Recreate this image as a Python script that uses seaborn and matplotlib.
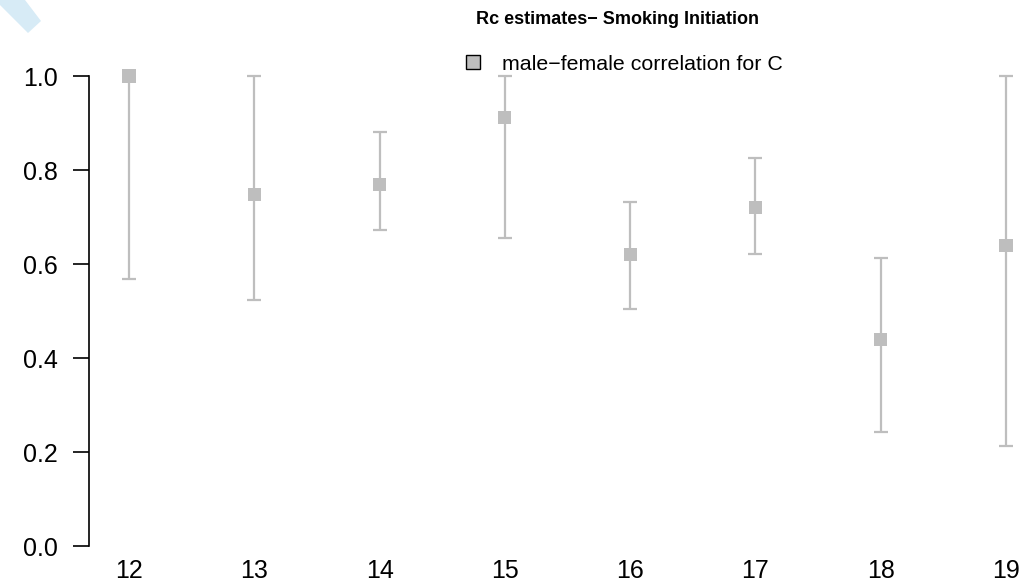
import matplotlib
matplotlib.use("Agg")
import matplotlib.pyplot as plt
from matplotlib.patches import Polygon
from matplotlib.lines import Line2D
import seaborn as sns
import pandas as pd

# Rc estimates (male-female correlation for C) by age, with confidence limits
ages = [12, 13, 14, 15, 16, 17, 18, 19]
estimate = [1.000, 0.747, 0.769, 0.911, 0.621, 0.721, 0.439, 0.639]
lower = [0.568, 0.523, 0.672, 0.656, 0.504, 0.621, 0.243, 0.213]
upper = [1.000, 1.000, 0.880, 1.000, 0.732, 0.826, 0.613, 1.000]
y_ticks = [0.0, 0.2, 0.4, 0.6, 0.8, 1.0]
title = "Rc estimates\u2212 Smoking Initiation"
series_label = "male\u2212female correlation for C"

df = pd.DataFrame({"age": ages, "rc": estimate, "lo": lower, "hi": upper})

sns.set_theme(style="white")
plt.rcParams["font.family"] = ["Liberation Sans", "DejaVu Sans"]
plt.rcParams["text.color"] = "black"

W, H = 1029, 586
fig = plt.figure(figsize=(W / 100, H / 100), dpi=100)
ax = fig.add_axes([89 / W, (H - 552) / H, (W - 89) / W, (552 - 57) / H])

grey = "#bebebe"
ax.errorbar(df["age"], df["rc"],
            yerr=[df["rc"] - df["lo"], df["hi"] - df["rc"]],
            fmt="none", ecolor=grey, elinewidth=1.6, capsize=4.8,
            capthick=1.6, zorder=2)
sns.scatterplot(data=df, x="age", y="rc", marker="s", s=88, color=grey,
                edgecolor="none", linewidth=0, ax=ax, zorder=3, legend=False)

px_per_unit = 125.3
ax.set_xlim(12 - 40 / px_per_unit, 19 + 23 / px_per_unit)
ax.set_ylim(1 - (552 - 76) / 470, 1 + (76 - 57) / 470)

ax.set_xticks(ages)
ax.set_xticklabels([str(a) for a in ages], fontsize=18)
ax.set_yticks(y_ticks)
ax.set_yticklabels([f"{v:.1f}" for v in y_ticks], fontsize=18)
ax.tick_params(axis="x", length=0, pad=5, labelcolor="black")
ax.tick_params(axis="y", direction="out", length=11.5, width=1.2, pad=11,
               colors="black", left=True)
ax.set_xlabel("")
ax.set_ylabel("")

for side in ("top", "right", "bottom"):
    ax.spines[side].set_visible(False)
ax.spines["left"].set_bounds(0, 1)
ax.spines["left"].set_linewidth(1.2)
ax.spines["left"].set_color("black")

handle = Line2D([], [], linestyle="none", marker="s", markersize=10,
                markerfacecolor=grey, markeredgecolor="black",
                markeredgewidth=1.0)
ax.legend([handle], [series_label], loc="center left",
          bbox_to_anchor=(463 / W, (H - 64) / H),
          bbox_transform=fig.transFigure, frameon=False, fontsize=15.4,
          handlelength=0.9, handletextpad=0.9, borderpad=0, borderaxespad=0,
          labelcolor="black")

fig.text(617 / W, (H - 19) / H, title, ha="center", va="center",
         fontsize=13, fontweight="bold", color="black")

# corner ribbon
corner = Polygon([(0, H), (25, H), (41, H - 21), (28, H - 33), (0, H - 5)],
                 closed=True, transform=None, facecolor="#d7ebf6",
                 edgecolor="none", zorder=0)
fig.patches.append(corner)

fig.savefig("out.png", dpi=100)
